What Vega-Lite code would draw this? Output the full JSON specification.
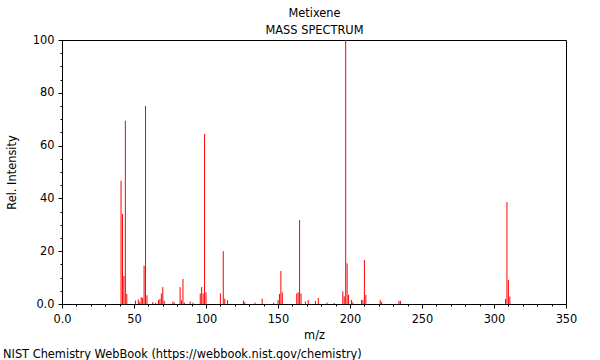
{
  "$schema": "https://vega.github.io/schema/vega-lite/v6.json",
  "autosize": "none",
  "width": 504,
  "height": 264,
  "padding": {"left": 62, "top": 40, "right": 34, "bottom": 56},
  "background": "white",
  "config": {
    "font": "DejaVu Sans",
    "view": {"stroke": "black", "strokeWidth": 1},
    "axis": {"labelFont": "DejaVu Sans", "titleFont": "DejaVu Sans", "labelFontSize": 11.4, "titleFontSize": 11.4, "titleFontWeight": "normal", "labelColor": "black", "titleColor": "black", "domainColor": "black", "tickColor": "black", "grid": false}
  },
  "title": {
    "text": "NIST Chemistry WebBook (https://webbook.nist.gov/chemistry)",
    "orient": "bottom",
    "anchor": "start",
    "frame": "group",
    "dx": -59,
    "offset": 8,
    "fontSize": 11.4,
    "fontWeight": "normal",
    "font": "DejaVu Sans",
    "color": "black"
  },
  "data": {
    "values": [
      {"mz": 41, "intensity": 46.7}, {"mz": 42, "intensity": 34.1}, {"mz": 43, "intensity": 10.6}, {"mz": 44, "intensity": 69.4}, {"mz": 45, "intensity": 3.8},
      {"mz": 51, "intensity": 1.3}, {"mz": 53, "intensity": 1.7}, {"mz": 54, "intensity": 0.8}, {"mz": 55, "intensity": 2.6}, {"mz": 56, "intensity": 2.3},
      {"mz": 57, "intensity": 14.5}, {"mz": 58, "intensity": 75.0}, {"mz": 59, "intensity": 3.3}, {"mz": 63, "intensity": 0.7}, {"mz": 65, "intensity": 0.4},
      {"mz": 67, "intensity": 1.5}, {"mz": 68, "intensity": 2.0}, {"mz": 69, "intensity": 4.0}, {"mz": 70, "intensity": 6.4}, {"mz": 71, "intensity": 1.2},
      {"mz": 77, "intensity": 1.0}, {"mz": 78, "intensity": 0.5}, {"mz": 82, "intensity": 6.4}, {"mz": 83, "intensity": 1.4}, {"mz": 84, "intensity": 9.5},
      {"mz": 85, "intensity": 0.5}, {"mz": 89, "intensity": 1.0}, {"mz": 91, "intensity": 0.5}, {"mz": 96, "intensity": 4.0}, {"mz": 97, "intensity": 6.4},
      {"mz": 98, "intensity": 4.0}, {"mz": 99, "intensity": 64.4}, {"mz": 100, "intensity": 4.4}, {"mz": 110, "intensity": 4.0}, {"mz": 112, "intensity": 20.0},
      {"mz": 113, "intensity": 2.0}, {"mz": 115, "intensity": 1.5}, {"mz": 126, "intensity": 1.3}, {"mz": 127, "intensity": 0.7}, {"mz": 134, "intensity": 0.5},
      {"mz": 139, "intensity": 2.0}, {"mz": 147, "intensity": 0.5}, {"mz": 150, "intensity": 1.5}, {"mz": 151, "intensity": 3.8}, {"mz": 152, "intensity": 12.5},
      {"mz": 153, "intensity": 4.4}, {"mz": 163, "intensity": 4.0}, {"mz": 164, "intensity": 4.4}, {"mz": 165, "intensity": 31.8}, {"mz": 166, "intensity": 4.0},
      {"mz": 169, "intensity": 1.0}, {"mz": 171, "intensity": 1.5}, {"mz": 176, "intensity": 1.2}, {"mz": 178, "intensity": 2.3}, {"mz": 184, "intensity": 0.5},
      {"mz": 189, "intensity": 0.4}, {"mz": 195, "intensity": 4.8}, {"mz": 196, "intensity": 2.9}, {"mz": 197, "intensity": 100}, {"mz": 198, "intensity": 15.4},
      {"mz": 199, "intensity": 3.5}, {"mz": 201, "intensity": 1.5}, {"mz": 202, "intensity": 0.7}, {"mz": 208, "intensity": 1.5}, {"mz": 209, "intensity": 1.5},
      {"mz": 210, "intensity": 16.7}, {"mz": 211, "intensity": 3.4}, {"mz": 221, "intensity": 1.5}, {"mz": 222, "intensity": 0.7}, {"mz": 234, "intensity": 1.2},
      {"mz": 235, "intensity": 1.2}, {"mz": 308, "intensity": 1.9}, {"mz": 309, "intensity": 38.6}, {"mz": 310, "intensity": 9.1}, {"mz": 311, "intensity": 2.8}
    ]
  },
  "layer": [
    {
      "mark": {"type": "rule", "color": "#ff0000", "strokeWidth": 1},
      "encoding": {
        "x": {
          "field": "mz", "type": "quantitative",
          "scale": {"domain": [0, 350], "nice": false, "zero": false},
          "axis": {
            "orient": "bottom",
            "title": "m/z",
            "values": [0,10,20,30,40,50,60,70,80,90,100,110,120,130,140,150,160,170,180,190,200,210,220,230,240,250,260,270,280,290,300,310,320,330,340,350],
            "labelExpr": "datum.value % 50 === 0 ? (datum.value === 0 ? '0.0' : datum.label) : ''",
            "tickSize": {"condition": {"test": "datum.value % 50 === 0", "value": 4}, "value": 2},
            "labelPadding": 5,
            "titlePadding": 5,
            "labelFlush": false,
            "labelOverlap": false
          }
        },
        "y": {
          "field": "intensity", "type": "quantitative",
          "scale": {"domain": [0, 100], "nice": false},
          "axis": {
            "title": "Rel. Intensity",
            "values": [0,5,10,15,20,25,30,35,40,45,50,55,60,65,70,75,80,85,90,95,100],
            "labelExpr": "datum.value % 20 === 0 ? (datum.value === 0 ? '0.0' : datum.label) : ''",
            "tickSize": {"condition": {"test": "datum.value % 20 === 0", "value": 4}, "value": 2},
            "labelPadding": 4,
            "titlePadding": 15,
            "labelOverlap": false
          }
        },
        "y2": {"datum": 0}
      }
    },
    {
      "mark": {"type": "rule", "opacity": 0},
      "encoding": {
        "x": {
          "field": "mz", "type": "quantitative",
          "axis": {
            "orient": "top",
            "title": ["Metixene", "MASS SPECTRUM"],
            "labels": false,
            "ticks": false,
            "domain": false,
            "titlePadding": 5,
            "titleLineHeight": 17
          }
        }
      }
    }
  ],
  "resolve": {"axis": {"x": "independent"}}
}
